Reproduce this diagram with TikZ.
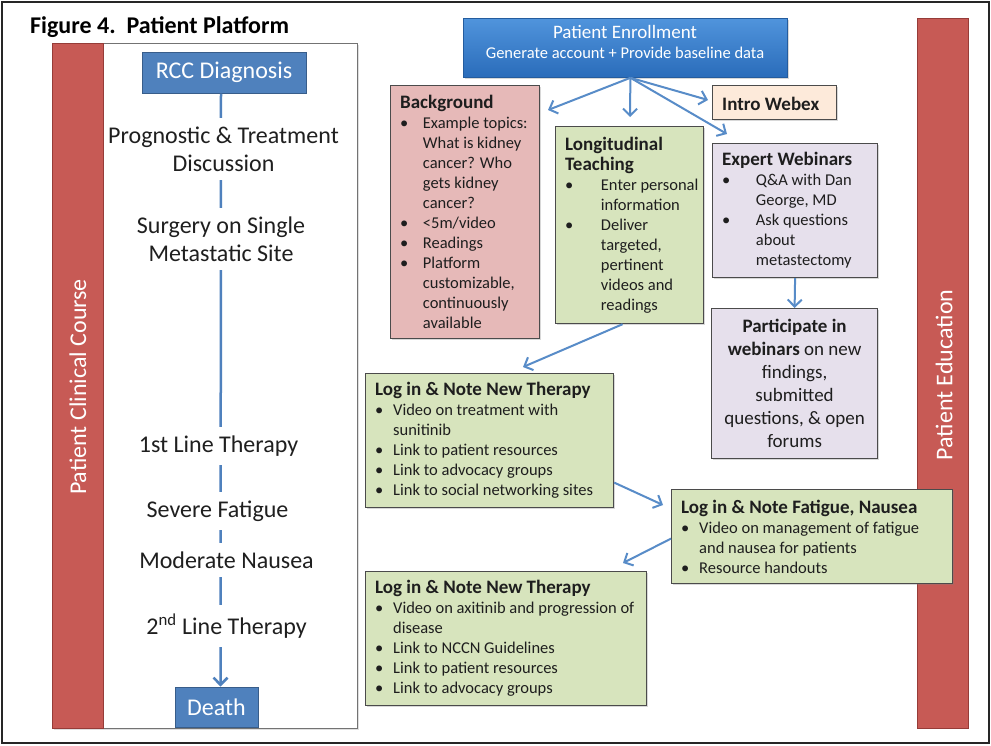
\documentclass[tikz,border=0pt]{standalone}
\usepackage{fontspec}
\setmainfont{Carlito}
\usetikzlibrary{arrows.meta,shadows}
\definecolor{barred}{RGB}{199,90,85}
\definecolor{barredd}{RGB}{150,60,56}
\definecolor{tlblue}{RGB}{79,129,189}
\definecolor{tlblued}{RGB}{56,93,138}
\definecolor{bgpink}{RGB}{230,185,184}
\definecolor{bggreen}{RGB}{215,228,189}
\definecolor{bgpeach}{RGB}{253,234,218}
\definecolor{bglav}{RGB}{230,224,236}
\definecolor{arrblue}{RGB}{88,140,200}
\definecolor{boxline}{RGB}{75,75,75}
\definecolor{txtdark}{RGB}{30,30,30}
\definecolor{enrtop}{RGB}{80,148,220}
\definecolor{enrbot}{RGB}{42,108,186}
\newcommand{\bul}[1][18pt]{\makebox[#1][l]{\textbullet}}
\newcommand{\ind}[1][18pt]{\hspace*{#1}}
\newcommand{\btitle}[1]{{\fontsize{19}{20}\selectfont\bfseries #1}}
\begin{document}
\begin{tikzpicture}[x=1pt,y=-1pt,
  pbox/.style={draw=boxline, line width=1.2pt, anchor=north west, inner sep=0pt,
    drop shadow={shadow xshift=1.5pt,shadow yshift=-1.5pt,opacity=0.3}},
  btxt/.style={anchor=west, align=left, inner sep=0pt, text=txtdark,
    font=\fontsize{16.5}{20}\selectfont},
  tlbox/.style={draw=tlblued, fill=tlblue, line width=1pt, text=white,
    font=\fontsize{24}{28}\selectfont, inner sep=0pt},
  tllabel/.style={fill=white, align=center, inner xsep=2pt, inner ysep=9pt,
    font=\fontsize{24}{28}\selectfont, text=black!88},
  conn/.style={draw=arrblue, line width=2pt,
    -{Straight Barb[length=7pt,width=14pt,line width=2pt]}},
  tline/.style={draw=tlblue, line width=2.5pt,
    -{Straight Barb[length=7pt,width=14pt,line width=2.5pt]}},
  redbar/.style={draw=barredd, fill=barred, line width=0.8pt, anchor=north west, inner sep=0pt},
  bartext/.style={rotate=90, text=white, font=\fontsize{24}{28}\selectfont, inner sep=0pt}
]
\useasboundingbox (0,0) rectangle (991,745);
\fill[white] (0,0) rectangle (991,745);
\draw[black!85, line width=1.5pt] (2,2) rectangle (989,743);

% title
\node[anchor=base west, inner sep=0pt, font=\fontsize{24}{28}\selectfont\bfseries] (title) at (30,33) {Figure 4.\ \ Patient Platform};

% left panel
\node[draw=black!55, fill=white, line width=1pt, anchor=north west, minimum width=305, minimum height=685, inner sep=0pt,
  drop shadow={shadow xshift=1.5pt,shadow yshift=-1.5pt,opacity=0.25}] (panel) at (52,43) {};
\node[redbar, minimum width=51, minimum height=685] (lbar) at (52,43) {};
\node[bartext] (lbart) at (78,387) {Patient Clinical Course};

% right bar
\node[redbar, minimum width=51, minimum height=710] (rbar) at (917,18) {};
\node[bartext] (rbart) at (944,375) {Patient Education};

% timeline
\node[tlbox, minimum width=164, minimum height=41] (rcc) at (224,72.5) {RCC Diagnosis};
\node[tlbox, minimum width=83, minimum height=40] (death) at (216.5,707) {Death};
\draw[tline] ([xshift=-3pt]rcc.south) -- ([xshift=4pt]death.north);
\node[tllabel] (prog) at (223.5,149) {Prognostic \& Treatment\\Discussion};
\node[tllabel] (surg) at (221,239) {Surgery on Single\\Metastatic Site};
\node[tllabel] (first) at (218.5,446) {1st Line Therapy};
\node[tllabel] (fat) at (217.5,511) {Severe Fatigue};
\node[tllabel] (naus) at (226.5,560) {Moderate Nausea};
\node[tllabel] (second) at (226.5,626) {2\textsuperscript{nd} Line Therapy};

% enrollment
\node[pbox, draw=enrbot!85!black, line width=0.8pt, top color=enrtop, bottom color=enrbot,
  minimum width=324, minimum height=59] (enr) at (463,18) {};
\node[align=center, inner sep=0pt, text=white, font=\fontsize{16.5}{20}\selectfont] (enrt) at (625,42)
  {{\fontsize{19}{20}\selectfont Patient Enrollment}\\Generate account + Provide baseline data};

% background
\node[pbox, fill=bgpink, minimum width=149, minimum height=253] (bg) at (390,85) {};
\node[btxt] (bgt) at ([xshift=10pt]bg.west) {\btitle{Background}\\
\bul[19pt] Example topics:\\ \ind[19pt] What is kidney\\ \ind[19pt] cancer? Who\\ \ind[19pt] gets kidney\\ \ind[19pt] cancer?\\
\bul[19pt] <5m/video\\ \bul[19pt] Readings\\ \bul[19pt] Platform\\ \ind[19pt] customizable,\\ \ind[19pt] continuously\\ \ind[19pt] available};

% longitudinal
\node[pbox, fill=bggreen, minimum width=148, minimum height=197] (lt) at (555,126) {};
\node[btxt] (ltt) at ([xshift=10pt]lt.west) {\btitle{Longitudinal}\\ \btitle{Teaching}\\
\bul[32pt] Enter personal\\ \ind[32pt] information\\ \bul[32pt] Deliver\\ \ind[32pt] targeted,\\ \ind[32pt] pertinent\\ \ind[32pt] videos and\\ \ind[32pt] readings};

% intro webex
\node[pbox, fill=bgpeach, minimum width=124, minimum height=34] (iw) at (712,85) {};
\node[btxt] (iwt) at ([xshift=10pt,yshift=-1.5pt]iw.west) {\btitle{Intro Webex}};

% expert webinars
\node[pbox, fill=bglav, minimum width=165, minimum height=134] (ew) at (712,143) {};
\node[btxt] (ewt) at ([xshift=10pt]ew.west) {\btitle{Expert Webinars}\\
\bul[30pt] Q\&A with Dan\\ \ind[30pt] George, MD\\ \bul[30pt] Ask questions\\ \ind[30pt] about\\ \ind[30pt] metastectomy};

% participate
\node[pbox, fill=bglav, minimum width=166, minimum height=150] (pw) at (711,308) {};
\node[align=center, inner sep=0pt, text=txtdark, font=\fontsize{19}{23}\selectfont] (pwt) at (pw.center)
  {\textbf{Participate in}\\\textbf{webinars} on new\\findings,\\submitted\\questions, \& open\\forums};

% log in 1
\node[pbox, fill=bggreen, minimum width=248, minimum height=134] (l1) at (365,373) {};
\node[btxt] (l1t) at ([xshift=10pt]l1.west) {\btitle{Log in \& Note New Therapy}\\
\bul Video on treatment with\\ \ind sunitinib\\ \bul Link to patient resources\\ \bul Link to advocacy groups\\ \bul Link to social networking sites};

% fatigue
\node[pbox, fill=bggreen, minimum width=281, minimum height=94] (fn) at (671,489) {};
\node[btxt] (fnt) at ([xshift=10pt]fn.west) {\btitle{Log in \& Note Fatigue, Nausea}\\
\bul Video on management of fatigue\\ \ind and nausea for patients\\ \bul Resource handouts};

% log in 2
\node[pbox, fill=bggreen, minimum width=281, minimum height=134] (l2) at (365,571) {};
\node[btxt] (l2t) at ([xshift=10pt]l2.west) {\btitle{Log in \& Note New Therapy}\\
\bul Video on axitinib and progression of\\ \ind disease\\ \bul Link to NCCN Guidelines\\ \bul Link to patient resources\\ \bul Link to advocacy groups};

% connectors
\coordinate (tbg) at (548,110);
\coordinate (tlt) at (630,117);
\coordinate (tiw) at (708,100);
\coordinate (tew) at (727,134);
\coordinate (tl1) at (523,367);
\coordinate (tfn) at (663,505);
\coordinate (tl2) at (623,563);
\draw[conn] ([xshift=5pt]enr.south) -- (tbg);
\draw[conn] ([xshift=5pt]enr.south) -- (tlt);
\draw[conn] ([xshift=5pt]enr.south) -- (tiw);
\draw[conn] ([xshift=5pt]enr.south) -- (tew);
\draw[conn] (ew.south) -- (pw.north);
\draw[conn] ([xshift=-7pt]lt.south) -- (tl1);
\draw[conn] ([yshift=-42pt]l1.east) -- (tfn);
\draw[conn] ([yshift=-2pt]fn.west) -- (tl2);
\end{tikzpicture}
\end{document}
